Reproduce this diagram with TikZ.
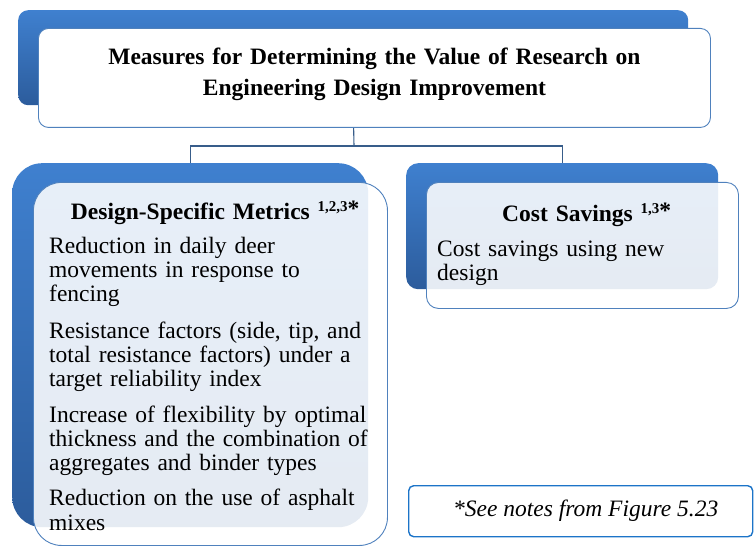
\documentclass[tikz,border=0pt]{standalone}
\usepackage{fontspec}
\setmainfont{Liberation Serif}
\usetikzlibrary{positioning, backgrounds}

\definecolor{boxblue}{HTML}{3F80CF}
\definecolor{boxbluedark}{HTML}{2C5C9C}
\definecolor{edgeblue}{HTML}{4F81BD}
\definecolor{linkblue}{HTML}{385D8A}
\definecolor{noteblue}{HTML}{1C74C8}

\newcommand{\refmark}[1]{~\raisebox{8pt}{\fontsize{15}{15}\selectfont #1}\raisebox{3pt}{*}}

\begin{document}
\begin{tikzpicture}[
            x=1pt, y=-1pt,
            every node/.style={font=\fontsize{23.5}{24.3}\selectfont, inner sep=0pt},
            back box/.style={rounded corners=#1, top color=boxblue, bottom color=boxbluedark, anchor=north west},
            front box/.style={rounded corners=#1, draw=edgeblue, line width=0.9pt, fill=white, fill opacity=0.88, anchor=north west},
            title text/.style={font=\fontsize{23.5}{30.5}\selectfont\bfseries, text width=600pt, align=center},
            box text/.style={align=left},
            note box/.style={draw=noteblue, line width=1.4pt, rounded corners=5pt, anchor=north west},
            link/.style={draw=linkblue, line width=1.1pt}
        ]
            \useasboundingbox (0,0) rectangle (755,548);

            % --- Top box ---
            \node[back box=10pt, minimum width=670pt, minimum height=95pt] (topback) at (18,10) {};
            \node[front box=10pt, fill opacity=1, minimum width=672pt, minimum height=99pt] (topfront) [below right=18pt and 20pt of topback.north west] {};
            \node[title text] (title) [below=37pt of topfront.north, anchor=base]
                {Measures for Determining the Value of Research on\\Engineering Design Improvement};

            % --- Left box ---
            \node[back box=30pt, minimum width=356pt, minimum height=364pt] (leftback) at (12,163) {};
            \node[front box=28pt, minimum width=354pt, minimum height=363pt] (leftfront) [below right=19pt and 21pt of leftback.north west] {};
            \node[box text, text width=332pt] (leftbody) [below right=38pt and 16pt of leftfront.north west, anchor=base west]
                {{\centering\bfseries Design-Specific Metrics\refmark{1,2,3}\par}\vspace{9pt}
                Reduction in daily deer\\
                movements in response to\\
                fencing\\[12pt]
                Resistance factors (side, tip, and\\
                total resistance factors) under a\\
                target reliability index\\[11pt]
                Increase of flexibility by optimal\\
                thickness and the combination of\\
                aggregates and binder types\\[11pt]
                Reduction on the use of asphalt\\
                mixes};

            % --- Right box ---
            \node[back box=12pt, minimum width=312pt, minimum height=126pt] (rightback) at (406,163) {};
            \node[front box=12pt, minimum width=312pt, minimum height=126pt] (rightfront) [below right=19pt and 20pt of rightback.north west] {};
            \node[box text, text width=299pt] (rightbody) [below right=40pt and 11pt of rightfront.north west, anchor=base west]
                {{\centering\bfseries Cost Savings\refmark{1,3}\par}\vspace{10pt}
                Cost savings using new\\
                design};

            % --- Note ---
            \node[note box, minimum width=344pt, minimum height=51pt] (note) at (408,485)
                {\hspace*{10pt}\itshape *See notes from Figure 5.23};

            % --- Connectors ---
            \coordinate (split) at (354,146);
            \begin{scope}[on background layer]
                \draw[link] (topback.south) -- (split);
                \draw[link] (split) -| (leftback.north);
                \draw[link] (split) -| (rightback.north);
            \end{scope}

        \end{tikzpicture}
\end{document}
